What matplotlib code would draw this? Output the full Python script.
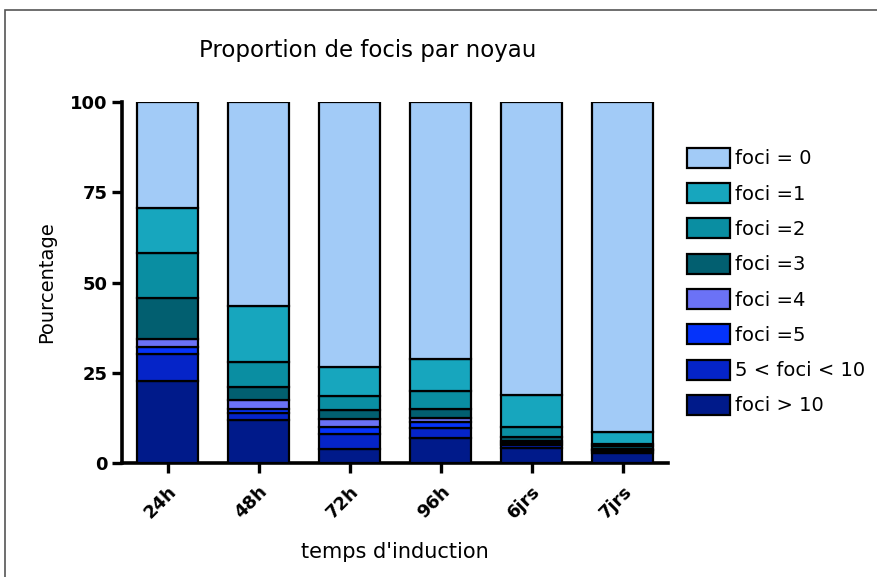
import matplotlib
matplotlib.use("Agg")
import matplotlib.pyplot as plt
from matplotlib.patches import Patch, Rectangle
import numpy as np

categories = ['24h', '48h', '72h', '96h', '6jrs', '7jrs']
foci_gt10 = [22.8, 11.9, 3.8, 7.0, 4.1, 2.7]
foci_5_10 = [7.4, 1.9, 4.2, 2.8, 0.9, 0.6]
foci_5 = [2.0, 1.1, 1.9, 1.6, 0.6, 0.4]
foci_4 = [2.1, 2.6, 2.2, 1.0, 0.5, 0.3]
foci_3 = [11.4, 3.5, 2.6, 2.6, 1.2, 0.7]
foci_2 = [12.5, 7.1, 3.9, 4.9, 2.8, 0.6]
foci_1 = [12.4, 15.4, 8.1, 8.9, 8.7, 3.4]
foci_0 = [29.4, 56.5, 73.3, 71.2, 81.2, 91.3]

labels = ['foci > 10', '5 < foci < 10', 'foci =5', 'foci =4',
          'foci =3', 'foci =2', 'foci =1', 'foci = 0']
series = [foci_gt10, foci_5_10, foci_5, foci_4, foci_3, foci_2, foci_1, foci_0]
colors = ['#001A8A', '#0524C8', '#0533FA', '#6B72F6',
          '#025F70', '#0A8EA2', '#17A6BE', '#A2CBF7']

plt.rcParams['font.family'] = ['DejaVu Sans']

fig = plt.figure(figsize=(8.77, 5.77), dpi=100)
ax = fig.add_axes([122/877, 1 - 463/577, (668 - 122)/877, (463 - 102)/577])

x = np.arange(len(categories))
bottom = np.zeros(len(categories))
handles = []
for vals, lab, col in zip(series, labels, colors):
    ax.bar(x, vals, width=0.67, bottom=bottom, color=col,
           edgecolor='black', linewidth=1.6, zorder=3)
    bottom += np.array(vals)
    handles.append(Patch(facecolor=col, edgecolor='black', linewidth=1.6, label=lab))

ax.set_xlim(-0.5, 5.5)
ax.set_ylim(0, 100)
ax.set_yticks([0, 25, 50, 75, 100])
ax.set_yticklabels(['0', '25', '50', '75', '100'], fontsize=13, fontweight='bold')
ax.set_xticks(x)
ax.set_xticklabels(categories, rotation=45, ha='right', rotation_mode='anchor',
                   fontsize=13, fontweight='bold')
ax.tick_params(axis='both', direction='out', length=7, width=2.4)
ax.tick_params(axis='x', pad=7)
for s in ['top', 'right']:
    ax.spines[s].set_visible(False)
for s in ['left', 'bottom']:
    ax.spines[s].set_linewidth(2.6)

ax.set_ylabel('Pourcentage', fontsize=14, labelpad=10)
ax.set_xlabel("temps d'induction", fontsize=15, labelpad=14)

fig.text(368/877, 1 - 50/577, 'Proportion de focis par noyau', fontsize=16.5,
         ha='center', va='center')

leg = fig.legend(handles=handles[::-1], loc='upper left',
                 bbox_to_anchor=(679/877, 1 - 140/577), frameon=False,
                 fontsize=14, handlelength=2.2, handleheight=1.2,
                 labelspacing=0.76, handletextpad=0.3, borderaxespad=0)

# screenshot frame
fig.add_artist(Rectangle((5/877, -0.1), 2, 1 - 10/577 + 0.1, transform=fig.transFigure,
                         fill=False, edgecolor='#555555', linewidth=1.2))

fig.savefig('out.png', dpi=100)
